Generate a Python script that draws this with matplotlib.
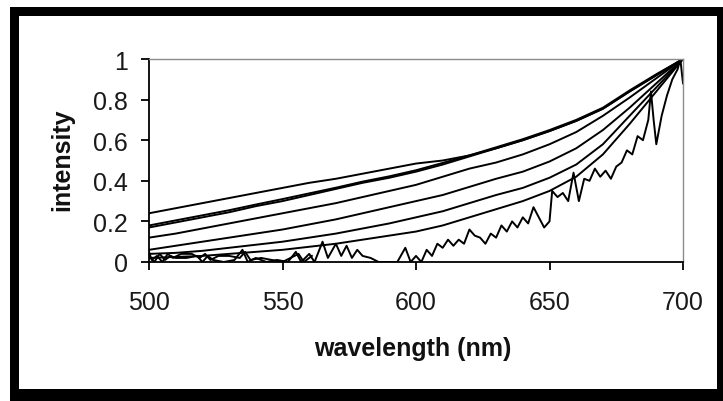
import matplotlib
matplotlib.use("Agg")
import matplotlib.pyplot as plt
from matplotlib.patches import Rectangle

# ---- data ----
wl = [500, 510, 520, 530, 540, 550, 560, 570, 580, 590, 600, 610, 620,
      630, 640, 650, 660, 670, 680, 690, 700]
curve_a = [.24, .265, .29, .315, .34, .365, .39, .41, .435, .46, .485, .50, .525,
           .56, .60, .645, .695, .755, .84, .92, 1.0]
curve_b1 = [.17, .195, .22, .245, .275, .30, .33, .36, .39, .415, .445, .48, .52,
            .56, .60, .645, .695, .755, .84, .92, 1.0]
curve_b2 = [.18, .205, .23, .255, .283, .31, .338, .366, .396, .422, .452, .488, .525,
            .565, .605, .65, .70, .76, .845, .925, 1.0]
curve_c = [.12, .14, .165, .19, .215, .24, .265, .29, .32, .35, .38, .42, .46,
           .49, .53, .58, .64, .72, .81, .905, 1.0]
curve_d = [.06, .08, .10, .12, .14, .16, .185, .21, .24, .27, .30, .33, .37,
           .41, .445, .495, .56, .65, .76, .88, 1.0]
curve_e = [.04, .045, .055, .07, .085, .10, .12, .14, .165, .19, .22, .25, .29,
           .33, .365, .415, .48, .58, .72, .86, 1.0]
curve_f = [.02, .025, .03, .04, .05, .06, .075, .09, .11, .13, .15, .18, .22,
           .26, .30, .35, .42, .53, .68, .84, 1.0]

noisy_wl = [500, 502, 504, 506, 508, 510, 514, 518, 520, 522, 524, 528, 532, 535,
            537, 540, 544, 548, 552, 555, 557, 560, 562, 565, 567, 570, 572, 574,
            576, 578, 580, 583, 586, 590, 593, 596, 598, 600, 602, 604, 606, 608,
            610, 612, 614, 616, 618, 620, 622, 624, 626, 628, 630, 632, 634, 636,
            638, 640, 642, 644, 646, 648, 650, 651, 653, 655, 657, 659, 661, 663,
            665, 667, 669, 671, 673, 675, 677, 679, 681, 683, 685, 687, 688, 689,
            690, 692, 694, 696, 698, 699, 700]
noisy_val = [.03, .0, .04, .01, .03, .02, .02, .03, .0, .03, .01, .0, .01, .06,
             .0, .02, .0, .01, .0, .05, .0, .04, .0, .10, .02, .09, .03, .08,
             .02, .06, .03, .02, .0, .0, .0, .07, .0, .03, .0, .06, .03, .09,
             .07, .11, .08, .11, .09, .16, .13, .12, .09, .14, .12, .18, .15, .20,
             .17, .22, .19, .27, .22, .17, .20, .35, .32, .34, .30, .44, .30, .41,
             .40, .46, .42, .45, .41, .47, .49, .55, .53, .62, .60, .70, .84, .70,
             .58, .72, .82, .90, .95, 1.0, .88]

low_wl = [500, 501, 503, 505, 507, 509, 512, 516, 519, 521, 523, 526, 530, 534,
          536, 538, 542, 546, 550, 553, 556, 558, 561]
low_val = [.05, .01, .03, .0, .04, .02, .04, .04, .02, .04, .01, .03, .03, .02,
           .05, .01, .02, .01, .0, .02, .04, .0, .03]

xticks = [500, 550, 600, 650, 700]
yticks = [0, 0.2, 0.4, 0.6, 0.8, 1]
ytick_labels = ["0", "0.2", "0.4", "0.6", "0.8", "1"]

# ---- figure ----
W, H = 723, 402
fig = plt.figure(figsize=(W / 100, H / 100), dpi=100)
fig.patch.set_facecolor("white")


def fx(px):
    return px / W


def fy(py):
    return 1 - py / H


# black frame
fig.patches.append(Rectangle((fx(10), 0), 1, fy(8), transform=fig.transFigure,
                             facecolor="black", edgecolor="none", zorder=-5))
fig.patches.append(Rectangle((fx(19), fy(390)), fx(717) - fx(19), fy(17) - fy(390),
                             transform=fig.transFigure, facecolor="white",
                             edgecolor="none", zorder=-4))

ax = fig.add_axes([fx(149), fy(263), fx(683) - fx(149), fy(60) - fy(263)])
ax.set_zorder(5)
ax.set_facecolor("none")

lw = 1.4
for c in [curve_a, curve_b1, curve_b2, curve_c, curve_d, curve_e, curve_f]:
    ax.plot(wl, c, color="black", lw=lw, solid_joinstyle="miter")
ax.plot(noisy_wl, noisy_val, color="black", lw=lw)
ax.plot(low_wl, low_val, color="black", lw=lw)

ax.set_xlim(500, 700)
ax.set_ylim(0, 1)
ax.set_xticks(xticks)
ax.set_yticks(yticks)
ax.set_yticklabels(ytick_labels)

for s in ["left", "bottom"]:
    ax.spines[s].set_color("black")
    ax.spines[s].set_linewidth(1.3)
for s in ["top", "right"]:
    ax.spines[s].set_color("#8c8c8c")
    ax.spines[s].set_linewidth(1.0)

font = "Liberation Sans"
ax.tick_params(axis="both", direction="out", length=6, width=1.3, color="black",
               labelsize=18, labelcolor="#1a1a1a")
ax.tick_params(axis="y", pad=9)
ax.tick_params(axis="x", pad=14)
for lab in ax.get_xticklabels() + ax.get_yticklabels():
    lab.set_fontfamily(font)

fig.text(fx(413), fy(349), "wavelength (nm)", ha="center", va="center",
         fontsize=18, fontweight="bold", family=font, color="#111")
fig.text(fx(62), fy(160), "intensity", ha="center", va="center", rotation=90,
         fontsize=18, fontweight="bold", family=font, color="#111")

fig.savefig("out.png", dpi=100)
